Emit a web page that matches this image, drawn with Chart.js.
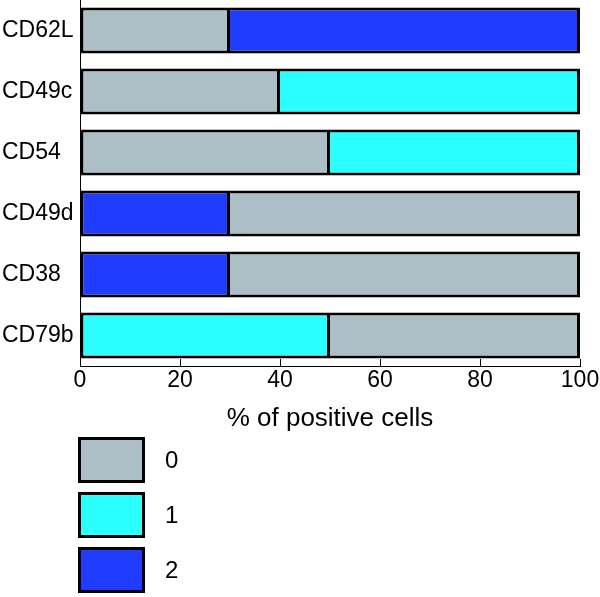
<!DOCTYPE html>
<html>
<head>
<meta charset="utf-8">
<script src="https://cdn.jsdelivr.net/npm/chart.js@4"></script>
<style>
  body { margin: 0; background: #fff; font-family: "Liberation Sans", Arial, sans-serif; }
  #wrap { position: relative; width: 600px; height: 597px; }
  #barChart { position: absolute; left: 0; top: 0; }
  #legend { position: absolute; left: 78px; top: 437px; }
  .item { position: relative; height: 55px; }
  .box { position: absolute; left: 0; top: 0; width: 67px; height: 46px; box-sizing: border-box; border: 3px solid #000; }
  .lbl { position: absolute; left: 87px; top: 0; height: 46px; line-height: 46px; font-size: 24px; color: #000; }
</style>
</head>
<body>
<div id="wrap">
  <canvas id="barChart" width="600" height="440"></canvas>
  <div id="legend"></div>
</div>
<script>
// markers on the y axis, top to bottom
const categories = ['CD62L', 'CD49c', 'CD54', 'CD49d', 'CD38', 'CD79b'];

// each segment is [start, end] in % of positive cells
const level0 = [[0, 30], [0, 40], [0, 50], [30, 100], [30, 100], [50, 100]];
const level1 = [null, [40, 100], [50, 100], null, null, [0, 50]];
const level2 = [[30, 100], null, null, [0, 30], [0, 30], null];

const seriesNames = ['0', '1', '2'];
const seriesColors = ['#adbfc6', '#2bffff', '#1f3cff'];
const xTicks = [0, 20, 40, 60, 80, 100];

Chart.defaults.font.family = '"Liberation Sans", Arial, sans-serif';
Chart.defaults.color = '#000';

// thick outline, but only one divider line where two segments meet
const segBorder = (ctx) => {
  const v = ctx.raw;
  return { top: 3, bottom: 3, right: 3, left: v && v[0] === 0 ? 3 : 0 };
};

const datasets = [level0, level1, level2].map((vals, i) => ({
  label: seriesNames[i],
  data: vals,
  backgroundColor: seriesColors[i],
  borderColor: '#000',
  borderWidth: segBorder,
  borderSkipped: false,
  grouped: false,
  barPercentage: 0.755,
  categoryPercentage: 1
}));

new Chart(document.querySelector('#barChart'), {
  type: 'bar',
  data: { labels: categories, datasets: datasets },
  options: {
    indexAxis: 'y',
    responsive: false,
    animation: false,
    layout: { padding: { left: 2, right: 20, top: 0, bottom: 0 } },
    scales: {
      x: {
        min: 0,
        max: 100,
        afterBuildTicks: (axis) => { axis.ticks = xTicks.map(v => ({ value: v })); },
        afterFit: (axis) => {
          axis.height = 74;
          axis.paddingLeft = 0;
          axis.paddingRight = 0;
        },
        grid: { drawOnChartArea: false, drawTicks: true, tickLength: -7, color: '#000', lineWidth: 1 },
        border: { color: '#000', width: 1 },
        ticks: { font: { size: 23 }, padding: 8, maxRotation: 0 },
        title: {
          display: true,
          text: '% of positive cells',
          font: { size: 26 },
          padding: { top: 0, bottom: 6 }
        }
      },
      y: {
        afterFit: (axis) => {
          axis.width = 78;
          axis.paddingTop = 0;
          axis.paddingBottom = 0;
        },
        grid: { display: false },
        border: { color: '#000', width: 1 },
        ticks: { font: { size: 23 }, crossAlign: 'far', padding: 4 }
      }
    },
    plugins: {
      legend: { display: false },
      tooltip: { enabled: false }
    }
  }
});

// legend below the chart, built from the same series
const legendEl = document.querySelector('#legend');
seriesNames.forEach((name, i) => {
  const item = document.createElement('div');
  item.className = 'item';
  const box = document.createElement('div');
  box.className = 'box';
  box.style.background = seriesColors[i];
  const lbl = document.createElement('div');
  lbl.className = 'lbl';
  lbl.textContent = name;
  item.appendChild(box);
  item.appendChild(lbl);
  legendEl.appendChild(item);
});
</script>
</body>
</html>
